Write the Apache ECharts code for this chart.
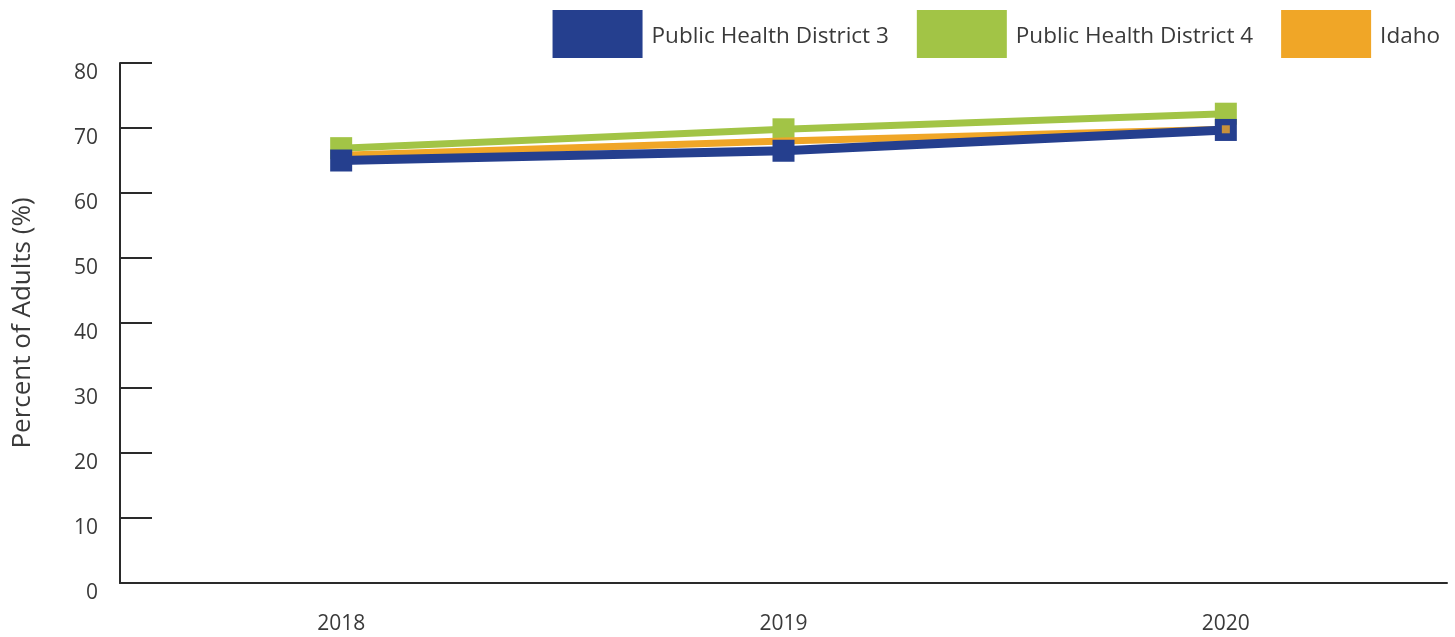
<!DOCTYPE html>
<html>
<head>
<meta charset="utf-8">
<title>Percent of Adults</title>
<script src="https://cdn.jsdelivr.net/npm/echarts@6/dist/echarts.min.js"></script>
<style>
    html, body { margin: 0; padding: 0; background: #fff; }
    #chartArea { width: 1455px; height: 637px; }
</style>
</head>
<body>
<div id="chartArea"></div>
<script>
// 数据
var years = ['2018', '2019', '2020'];
var district3 = [65.0, 66.5, 69.7];
var district4 = [66.9, 69.8, 72.2];
var idaho = [65.8, 68.0, 69.8];
var yTicks = [0, 10, 20, 30, 40, 50, 60, 70, 80];

var colorD3 = '#253f8e';
var colorD4 = '#a2c446';
var colorIdaho = '#f0a627';
var textColor = '#3a3a3a';
var axisColor = '#2a2a2a';
var fontName = '"Open Sans", "Noto Sans", sans-serif';

var myChart = echarts.init(document.getElementById('chartArea'));

var option = {
    animation: false,
    textStyle: {fontFamily: fontName},
    legend: {
        right: 10,
        top: 5,
        itemWidth: 90,
        itemHeight: 48,
        itemGap: 28,
        formatter: '{t|{name}}',
        textStyle: {
            fontSize: 22.5, color: textColor, fontFamily: fontName,
            rich: {
                t: {fontSize: 22.5, color: textColor, fontFamily: fontName, padding: [6, 0, 0, 4]}
            }
        },
        data: [
            {name: 'Public Health District 3', icon: 'rect', itemStyle: {color: colorD3}},
            {name: 'Public Health District 4', icon: 'rect', itemStyle: {color: colorD4}},
            {name: 'Idaho', icon: 'rect', itemStyle: {color: colorIdaho}}
        ]
    },
    grid: {
        left: 120,
        right: 8,
        top: 63,
        bottom: 54
    },
    xAxis: {
        type: 'category',
        boundaryGap: true,
        data: years,
        axisLine: {lineStyle: {color: axisColor, width: 2}},
        axisTick: {alignWithLabel: true, inside: true, length: 12, lineStyle: {color: axisColor, width: 2}},
        axisLabel: {fontSize: 21, color: textColor, margin: 31, fontFamily: fontName},
        splitLine: {show: false}
    },
    yAxis: {
        type: 'value',
        min: yTicks[0],
        max: yTicks[yTicks.length - 1],
        interval: 10,
        name: 'Percent of Adults (%)',
        nameLocation: 'middle',
        nameGap: 84,
        nameTextStyle: {fontSize: 26, color: textColor, fontFamily: fontName},
        axisLine: {show: true, lineStyle: {color: axisColor, width: 2}},
        axisTick: {show: true, inside: true, length: 32, lineStyle: {color: axisColor, width: 2}},
        axisLabel: {
            fontSize: 21, color: textColor, margin: 22, fontFamily: fontName,
            verticalAlign: 'top'
        },
        splitLine: {show: false}
    },
    series: [
        {
            name: 'Public Health District 4',
            type: 'line',
            data: district4,
            z: 2,
            symbol: 'rect',
            symbolSize: 22,
            color: colorD4,
            lineStyle: {width: 7, color: colorD4},
            itemStyle: {color: colorD4}
        },
        {
            name: 'Idaho',
            type: 'line',
            data: idaho,
            z: 3,
            showSymbol: false,
            color: colorIdaho,
            lineStyle: {width: 7, color: colorIdaho},
            itemStyle: {color: colorIdaho}
        },
        {
            name: 'Public Health District 3',
            type: 'line',
            data: district3,
            z: 4,
            symbol: 'rect',
            symbolSize: 22,
            color: colorD3,
            lineStyle: {width: 9, color: colorD3},
            itemStyle: {color: colorD3}
        },
        {
            name: 'Idaho',
            type: 'scatter',
            data: idaho,
            z: 5,
            symbol: 'rect',
            symbolSize: function (val, params) {
                return params.dataIndex === idaho.length - 1 ? 8 : 0;
            },
            itemStyle: {color: colorIdaho}
        }
    ]
};

myChart.setOption(option);
</script>
</body>
</html>
